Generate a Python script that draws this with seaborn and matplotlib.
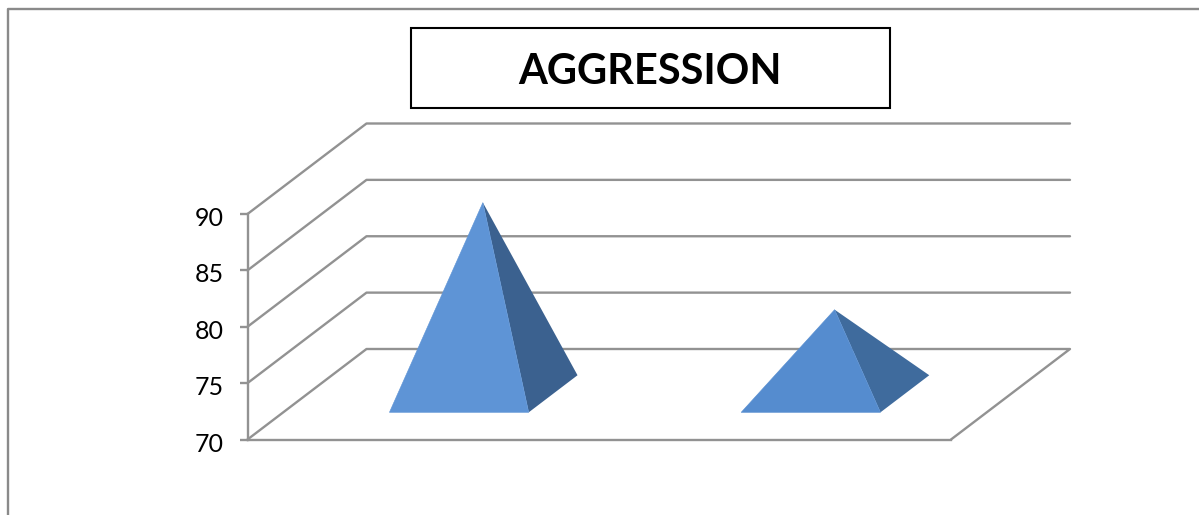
import matplotlib
matplotlib.use("Agg")
import matplotlib.pyplot as plt
from matplotlib.lines import Line2D
from matplotlib.patches import Rectangle
from matplotlib.transforms import ScaledTranslation
import numpy as np
import pandas as pd
import seaborn as sns

# data
title = "AGGRESSION"
categories = ["Group 1", "Group 2"]
values = [87.0, 77.5]
y_ticks = [70, 75, 80, 85, 90]

# style
W, H = 1199, 515
GRID = "#929292"
FRONT = ["#5E94D6", "#558CCF"]
SIDE = ["#3B618F", "#3F6B9D"]

sns.set_theme(style="white")
plt.rcParams["font.family"] = ["Lato", "DejaVu Sans"]

fig = plt.figure(figsize=(W / 100, H / 100), dpi=100, facecolor="white")
L, R, T, B = 247.5, 951, 214, 439.5
ax = fig.add_axes([L / W, 1 - B / H, (R - L) / W, (B - T) / H])
ax.set_xlim(-0.5, 1.5)
ax.set_ylim(70, 90)
ax.patch.set_alpha(0)

# oblique projection of the chart box: depth 0 = front, depth 1 = back wall
px_x = (R - L) / 2
px_y = (B - T) / 20
DX = 119.0 / px_x
DY = 90.5 / px_y


def project(x, v, d):
    return x + d * DX, v + d * DY


# gridlines on side wall and back wall, plus floor edge
rows = []
for t in y_ticks:
    for x, d in [(-0.5, 0), (-0.5, 1), (1.5, 1)]:
        px, py = project(x, t, d)
        rows.append({"tick": t, "x": px, "y": py})
px, py = project(1.5, 70, 1)
rows.append({"tick": 70, "x": px, "y": py})
px, py = project(1.5, 70, 0)
rows.append({"tick": 70, "x": px, "y": py})
grid = pd.DataFrame(rows)
sns.lineplot(data=grid, x="x", y="y", units="tick", estimator=None, sort=False,
             color=GRID, lw=1.7, ax=ax, legend=False, clip_on=False, zorder=1)

# pyramids
HALF = 0.198
D0, D1, DM = 0.30, 0.71, 0.5
for i, v in enumerate(values):
    a = project(i - HALF, 70, D0)
    b = project(i + HALF, 70, D0)
    c = project(i + HALF, 70, D1)
    apex = project(i, v, DM)
    xs, ys = zip(b, c, apex)
    ax.fill(xs, ys, color=SIDE[i], lw=0, clip_on=False, zorder=3)
    xs, ys = zip(a, b, apex)
    ax.fill(xs, ys, color=FRONT[i], lw=0.4, clip_on=False, zorder=4)

# axes
sns.despine(ax=ax, top=True, right=True)
for s in ("left", "bottom"):
    ax.spines[s].set_color(GRID)
    ax.spines[s].set_linewidth(1.7)
ax.set_xticks([])
ax.set_yticks(y_ticks)
ax.tick_params(axis="y", left=True, length=6, width=1.7, color=GRID, pad=11,
               labelsize=18, labelcolor="black")
shift = ScaledTranslation(0, -2.5 / 100, fig.dpi_scale_trans)
for lab in ax.get_yticklabels():
    lab.set_transform(lab.get_transform() + shift)
ax.set_xlabel("")
ax.set_ylabel("")

# outer frame (cropped at right and bottom)
fig.add_artist(Line2D([8 / W, 8 / W, 1], [0, 1 - 9 / H, 1 - 9 / H],
                      transform=fig.transFigure, color="#8a8a8a", lw=1.7))

# title box
fig.add_artist(Rectangle((410.5 / W, 1 - 108 / H), 479 / W, 80 / H,
                         transform=fig.transFigure, fc="white", ec="black", lw=1.5))
fig.text(649.5 / W, 1 - 72.5 / H, title, ha="center", va="center",
         fontsize=30, fontweight="bold", color="black")

fig.savefig("out.png", dpi=100)
